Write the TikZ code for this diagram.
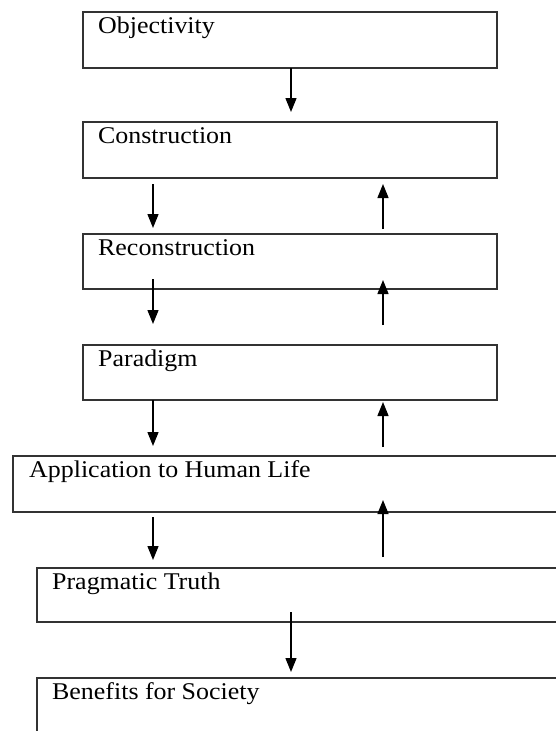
\documentclass[tikz,border=0pt]{standalone}
\usepackage{fontspec}
\setmainfont{Liberation Serif}[FakeStretch=1.08]
\usetikzlibrary{arrows.meta,calc}
\tikzset{
  box/.style={draw=black!80, line width=1.7pt, rectangle, anchor=north west, inner sep=0pt, outer sep=0pt},
  lbl/.style={anchor=base west, inner sep=0pt, font=\fontsize{24pt}{28pt}\selectfont},
  arr/.style={line width=1.4pt, -{Triangle[width=11pt,length=14pt]}}
}
\begin{document}
\begin{tikzpicture}[x=1pt,y=-1pt]
\useasboundingbox (0,0) rectangle (556,731);
\clip (0,0) rectangle (556,731);
\fill[white] (0,0) rectangle (556,731);
% boxes
\node[box, minimum width=414pt, minimum height=56pt] (a) at (83,12) {};
\node[box, minimum width=414pt, minimum height=56pt] (b) at (83,122) {};
\node[box, minimum width=414pt, minimum height=55pt] (c) at (83,234) {};
\node[box, minimum width=414pt, minimum height=55pt] (d) at (83,345) {};
\node[box, minimum width=600pt, minimum height=56pt] (e) at (13,456) {};
\node[box, minimum width=600pt, minimum height=54pt] (f) at (37,568) {};
\node[box, minimum width=600pt, minimum height=100pt] (g) at (37,678) {};
% labels
\node[lbl] (ta) at ($(a.north west)+(15pt,-21pt)$) {Objectivity};
\node[lbl] (tb) at ($(b.north west)+(15pt,-21pt)$) {Construction};
\node[lbl] (tc) at ($(c.north west)+(15pt,-21pt)$) {Reconstruction};
\node[lbl] (td) at ($(d.north west)+(15pt,-21pt)$) {Paradigm};
\node[lbl] (te) at ($(e.north west)+(16pt,-21pt)$) {Application to Human Life};
\node[lbl] (tf) at ($(f.north west)+(15pt,-21pt)$) {Pragmatic Truth};
\node[lbl] (tg) at ($(g.north west)+(15pt,-21pt)$) {Benefits for Society};
% guide coordinates
\coordinate (lx) at (153,0);
\coordinate (rx) at (383,0);
\coordinate (mx) at (291,0);
% arrows
\draw[arr] (a.south -| mx) -- ([yshift=10pt]b.north -| mx);
\draw[arr] ([yshift=-6pt]b.south -| lx) -- ([yshift=6pt]c.north -| lx);
\draw[arr] ([yshift=5pt]c.north -| rx) -- ([yshift=-6pt]b.south -| rx);
\draw[arr] ([yshift=10pt]c.south -| lx) -- ([yshift=21pt]d.north -| lx);
\draw[arr] ([yshift=20pt]d.north -| rx) -- ([yshift=9pt]c.south -| rx);
\draw[arr] (d.south -| lx) -- ([yshift=10pt]e.north -| lx);
\draw[arr] ([yshift=9pt]e.north -| rx) -- ([yshift=-2pt]d.south -| rx);
\draw[arr] ([yshift=-5pt]e.south -| lx) -- ([yshift=8pt]f.north -| lx);
\draw[arr] ([yshift=11pt]f.north -| rx) -- ([yshift=12pt]e.south -| rx);
\draw[arr] ([yshift=10pt]f.south -| mx) -- ([yshift=6pt]g.north -| mx);
\end{tikzpicture}
\end{document}
